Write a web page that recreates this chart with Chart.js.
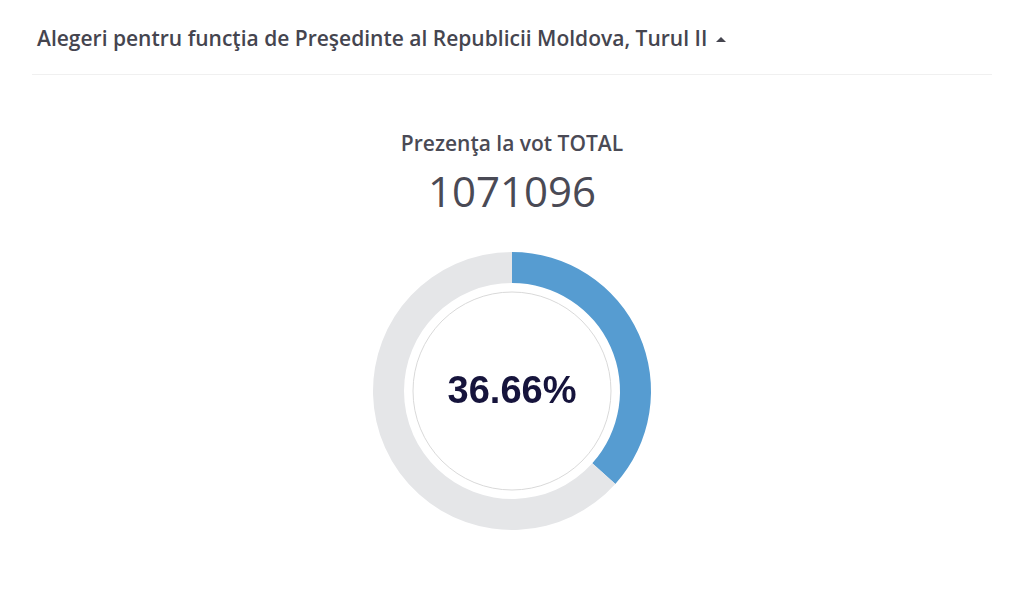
<!DOCTYPE html>
<html>
<head>
<meta charset="utf-8">
<script src="https://cdn.jsdelivr.net/npm/chart.js@4"></script>
<style>
  body { margin: 0; background: #fff; width: 1024px; height: 596px; position: relative; overflow: hidden; font-family: "Open Sans", "Noto Sans", sans-serif; }
  #title { position: absolute; left: 37px; top: 24px; font-size: 21px; font-weight: 600; color: #45454f; white-space: nowrap; }
  #arrow { position: absolute; left: 716px; top: 37px; width: 0; height: 0; border-left: 5px solid transparent; border-right: 5px solid transparent; border-bottom: 5px solid #45454f; }
  #sep { position: absolute; left: 32px; top: 74px; width: 960px; height: 1px; background: #f0f0f0; }
  #label { position: absolute; left: 0; width: 1024px; top: 129px; text-align: center; font-size: 21px; font-weight: 600; color: #4a4a55; }
  #total { position: absolute; left: 0; width: 1024px; top: 163px; text-align: center; font-size: 42px; color: #4a4a55; line-height: 56px; }
  #wrap { position: absolute; left: 0; top: 252px; width: 1024px; height: 278px; }
</style>
</head>
<body>
<div id="title">Alegeri pentru funcţia de Preşedinte al Republicii Moldova, Turul II</div>
<div id="arrow"></div>
<div id="sep"></div>
<div id="label">Prezenţa la vot TOTAL</div>
<div id="total"></div>
<div id="wrap"><canvas id="turnout" width="1024" height="278"></canvas></div>
<script>
const categories = ['Au votat', 'Nu au votat'];
const turnoutValues = [36.66, 63.34];
const totalVoters = 1071096;
const sliceColors = ['#569cd1', '#e5e6e8'];

document.getElementById('total').textContent = totalVoters;

const centerPlugin = {
  id: 'centerText',
  afterDraw(chart) {
    const arc = chart.getDatasetMeta(0).data[0];
    const ctx = chart.ctx;
    ctx.save();
    ctx.beginPath();
    ctx.arc(arc.x, arc.y, 99, 0, Math.PI * 2);
    ctx.strokeStyle = '#d9d9d9';
    ctx.lineWidth = 1;
    ctx.stroke();
    ctx.fillStyle = '#16143c';
    ctx.font = 'bold 38px "Liberation Sans", Arial, sans-serif';
    ctx.textAlign = 'center';
    ctx.textBaseline = 'middle';
    ctx.fillText(turnoutValues[0].toFixed(2) + '%', arc.x, arc.y + 2);
    ctx.restore();
  }
};

new Chart(document.getElementById('turnout'), {
  type: 'doughnut',
  data: {
    labels: categories,
    datasets: [{
      data: turnoutValues,
      backgroundColor: sliceColors,
      borderWidth: 0
    }]
  },
  options: {
    responsive: false,
    animation: false,
    cutout: 108,
    layout: { padding: 0 },
    plugins: {
      legend: { display: false },
      tooltip: { enabled: false }
    }
  },
  plugins: [centerPlugin]
});
</script>
</body>
</html>
